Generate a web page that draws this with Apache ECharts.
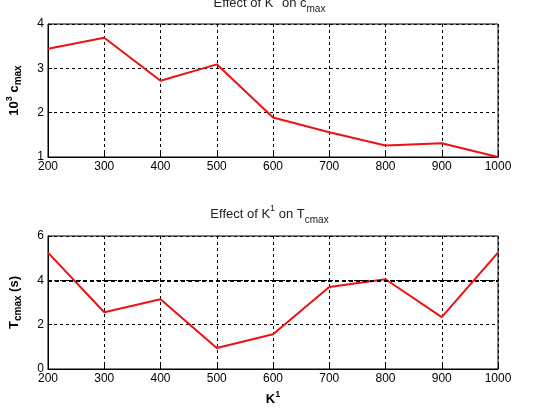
<!DOCTYPE html>
<html>
<head>
<meta charset="utf-8">
<script src="https://cdn.jsdelivr.net/npm/echarts@6/dist/echarts.min.js"></script>
<style>
  html, body { margin: 0; padding: 0; background: #fff; }
  #chart { width: 539px; height: 408px; }
</style>
</head>
<body>
<div id="chart"></div>
<script>
// K1 values shared by both panels
const kValues = [200, 300, 400, 500, 600, 700, 800, 900, 1000];
// 10^3 c_max
const cMax = [3.44, 3.69, 2.72, 3.09, 1.89, 1.56, 1.26, 1.31, 1.0];
// T_cmax (s)
const tCmax = [5.25, 2.56, 3.15, 0.95, 1.57, 3.7, 4.05, 2.34, 5.25];
const tThreshold = [4];

const xTicks = { min: 200, max: 1000, interval: 100 };
const topY = { min: 1, max: 4, interval: 1 };
const botY = { min: 0, max: 6, interval: 2 };

const font = 'Arial, "Liberation Sans", sans-serif';
const lineRed = '#ee1111';

const rich = {
  b: { fontSize: 13, fontWeight: 'bold', fontFamily: font, color: '#000', lineHeight: 18 },
  bsup: { fontSize: 9, fontWeight: 'bold', fontFamily: font, color: '#000', lineHeight: 18, verticalAlign: 'top' },
  bsub: { fontSize: 10, fontWeight: 'bold', fontFamily: font, color: '#000', lineHeight: 18, verticalAlign: 'bottom' },
  t: { fontSize: 13, fontWeight: 'normal', fontFamily: font, color: '#222', lineHeight: 18 },
  tsup: { fontSize: 9, fontWeight: 'normal', fontFamily: font, color: '#222', lineHeight: 16, verticalAlign: 'top' },
  tsub: { fontSize: 10, fontWeight: 'normal', fontFamily: font, color: '#222', lineHeight: 21, verticalAlign: 'bottom' }
};

function xAxisFor(idx, withName) {
  return {
    gridIndex: idx,
    type: 'value',
    min: xTicks.min, max: xTicks.max, interval: xTicks.interval,
    axisLine: { show: true, onZero: false, lineStyle: { color: '#000', width: 1 } },
    axisTick: { show: true, inside: true, length: 4, lineStyle: { color: '#000' } },
    axisLabel: { color: '#000', fontSize: 12, fontFamily: font, margin: 4,
      formatter: v => String(v) },
    splitLine: { show: true, lineStyle: { color: '#000', type: [3, 3], width: 1 } },
    name: withName ? '{b|K}{bsup|1}' : '',
    nameLocation: 'middle',
    nameGap: 21,
    nameTextStyle: { rich }
  };
}

function yAxisFor(idx, range, name, gap) {
  return {
    gridIndex: idx,
    type: 'value',
    min: range.min, max: range.max, interval: range.interval,
    axisLine: { show: true, lineStyle: { color: '#000', width: 1 } },
    axisTick: { show: true, inside: true, length: 4, lineStyle: { color: '#000' } },
    axisLabel: { color: '#000', fontSize: 12, fontFamily: font, margin: 4 },
    splitLine: { show: true, lineStyle: { color: '#000', type: [3, 3], width: 1 } },
    name,
    nameLocation: 'middle',
    nameRotate: 90,
    nameGap: gap,
    nameTextStyle: { rich }
  };
}

const chart = echarts.init(document.getElementById('chart'), null, { renderer: 'canvas' });

chart.setOption({
  backgroundColor: '#fff',
  animation: false,
  title: [
    {
      text: '{t|Effect of K}{tsup|1}{t| on c}{tsub|max}',
      left: 'center', top: -12,
      textStyle: { fontWeight: 'normal', rich }
    },
    {
      text: '{t|Effect of K}{tsup|1}{t| on T}{tsub|cmax}',
      left: 'center', top: 199,
      textStyle: { fontWeight: 'normal', rich }
    }
  ],
  grid: [
    { left: 48, right: 41, top: 24, height: 133, show: true, borderColor: '#000', borderWidth: 1,
      outerBoundsMode: 'none', containLabel: false },
    { left: 48, right: 41, top: 236, height: 133, show: true, borderColor: '#000', borderWidth: 1,
      outerBoundsMode: 'none', containLabel: false }
  ],
  xAxis: [xAxisFor(0, false), xAxisFor(1, true)],
  yAxis: [
    yAxisFor(0, topY, '{b|10}{bsup|3}{b| c}{bsub|max}', 25),
    yAxisFor(1, botY, '{b|T}{bsub|cmax}{b| (s)}', 25)
  ],
  series: [
    {
      type: 'line', xAxisIndex: 0, yAxisIndex: 0,
      data: kValues.map((k, i) => [k, cMax[i]]),
      showSymbol: false,
      lineStyle: { color: lineRed, width: 2 },
      itemStyle: { color: lineRed }
    },
    {
      type: 'line', xAxisIndex: 1, yAxisIndex: 1,
      data: kValues.map((k, i) => [k, tCmax[i]]),
      showSymbol: false,
      lineStyle: { color: lineRed, width: 2 },
      itemStyle: { color: lineRed },
      markLine: {
        silent: true,
        symbol: 'none',
        label: { show: false },
        lineStyle: { color: '#000', type: [4, 3], width: 2 },
        data: tThreshold.map(v => ({ yAxis: v }))
      }
    }
  ]
});
</script>
</body>
</html>
